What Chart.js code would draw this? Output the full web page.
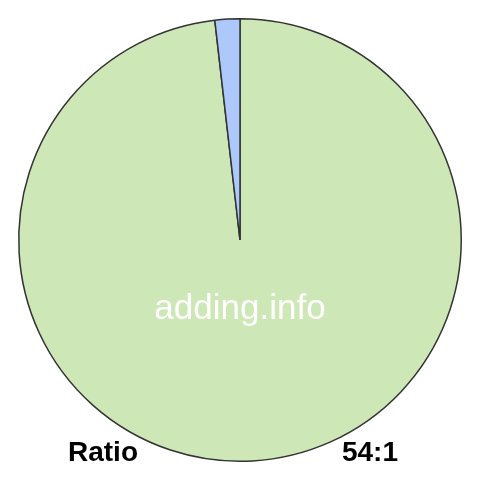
<!DOCTYPE html>
<html>
<head>
<meta charset="utf-8">
<script src="https://cdn.jsdelivr.net/npm/chart.js@4"></script>
<style>
html,body{margin:0;padding:0;background:#fff;}
canvas{display:block;}
</style>
</head>
<body>
<canvas id="c" width="480" height="480"></canvas>
<script>
const categories = ["54", "1"];
const values = [54, 1];
const colors = ["#cde8b6", "#adc9fc"];
const labelLeft = "Ratio";
const labelRight = "54:1";
const watermark = "adding.info";

const textPlugin = {
  id: 'texts',
  afterDraw(chart) {
    const ctx = chart.ctx;
    ctx.save();
    ctx.fillStyle = '#ffffff';
    ctx.font = '35px "Liberation Sans", Arial, sans-serif';
    ctx.textAlign = 'center';
    ctx.textBaseline = 'middle';
    ctx.fillText(watermark, 240, 309);
    ctx.fillStyle = '#000000';
    ctx.font = 'bold 28px "Liberation Sans", Arial, sans-serif';
    ctx.textBaseline = 'alphabetic';
    ctx.textAlign = 'left';
    ctx.fillText(labelLeft, 68, 461);
    ctx.textAlign = 'right';
    ctx.fillText(labelRight, 398, 461);
    ctx.restore();
  }
};

new Chart(document.getElementById('c'), {
  type: 'pie',
  data: {
    labels: categories,
    datasets: [{
      data: values,
      backgroundColor: colors,
      borderColor: '#333333',
      borderWidth: 1.5
    }]
  },
  options: {
    responsive: false,
    animation: false,
    devicePixelRatio: 1,
    layout: { padding: 18 },
    plugins: { legend: { display: false }, tooltip: { enabled: false } }
  },
  plugins: [textPlugin]
});
</script>
</body>
</html>
